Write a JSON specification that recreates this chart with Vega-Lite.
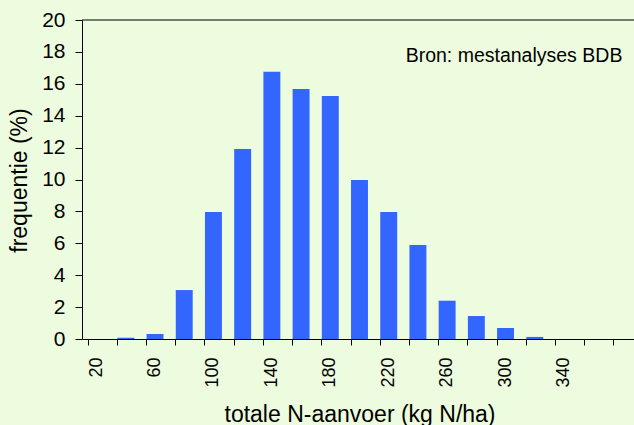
{
  "$schema": "https://vega.github.io/schema/vega-lite/v6.json",
  "width": 552,
  "height": 319,
  "autosize": "none",
  "padding": {"left": 82, "top": 20, "right": 0, "bottom": 86},
  "background": "#edfcdf",
  "config": {
    "view": {"stroke": null},
    "font": "Liberation Sans",
    "axisX": {
      "titleFontSize": 23, "titleFontWeight": "normal", "titleColor": "#000",
      "titleBaseline": "alphabetic", "titleY": 82,
      "labelAngle": -90, "labelFontSize": 18, "labelColor": "#000", "labelPadding": 12,
      "bandPosition": 0, "tickSize": 6, "tickColor": "#000", "domainColor": "#000",
      "labelOverlap": false
    },
    "axisY": {
      "titleFontSize": 23, "titleFontWeight": "normal", "titleColor": "#000",
      "titleBaseline": "alphabetic", "titleX": -56, "titleY": 160, "titleAngle": -90, "titleAlign": "center",
      "labelFontSize": 21, "labelColor": "#000", "labelPadding": 10, "labelOverlap": false,
      "tickSize": 7, "tickColor": "#000", "domainColor": "#000", "grid": false
    }
  },
  "encoding": {
    "x": {
      "field": "N", "type": "ordinal", "sort": null,
      "scale": {"range": [0, 555], "paddingInner": 0.42, "paddingOuter": 0.21},
      "axis": {
        "title": "totale N-aanvoer (kg N/ha)",
        "labelExpr": "((datum.value - 20) % 40 == 0 && datum.value <= 340) ? datum.label : ''"
      }
    },
    "y": {
      "field": "freq", "type": "quantitative",
      "scale": {"domain": [0, 20], "nice": false},
      "axis": {
        "title": "frequentie (%)",
        "values": [0, 2, 4, 6, 8, 10, 12, 14, 16, 18, 20]
      }
    }
  },
  "layer": [
    {
      "data": {"values": [
        {"N": 20, "freq": 0},
        {"N": 40, "freq": 0.08},
        {"N": 60, "freq": 0.32},
        {"N": 80, "freq": 3.07},
        {"N": 100, "freq": 7.96},
        {"N": 120, "freq": 11.91},
        {"N": 140, "freq": 16.76},
        {"N": 160, "freq": 15.67},
        {"N": 180, "freq": 15.24},
        {"N": 200, "freq": 9.97},
        {"N": 220, "freq": 7.96},
        {"N": 240, "freq": 5.89},
        {"N": 260, "freq": 2.4},
        {"N": 280, "freq": 1.44},
        {"N": 300, "freq": 0.69},
        {"N": 320, "freq": 0.13},
        {"N": 340, "freq": 0},
        {"N": 360, "freq": 0},
        {"N": 380, "freq": 0}
      ]},
      "mark": {"type": "bar", "color": "#3366ff"}
    },
    {
      "data": {"values": [{"N": 20, "freq": 20}]},
      "mark": {"type": "rule", "color": "#000", "strokeWidth": 1},
      "encoding": {"x": null}
    },
    {
      "data": {"values": [{"N": 380, "freq": 17.37, "label": "Bron: mestanalyses BDB"}]},
      "mark": {"type": "text", "align": "right", "baseline": "alphabetic", "fontSize": 19.5, "color": "#000"},
      "encoding": {"text": {"field": "label"}}
    }
  ]
}
